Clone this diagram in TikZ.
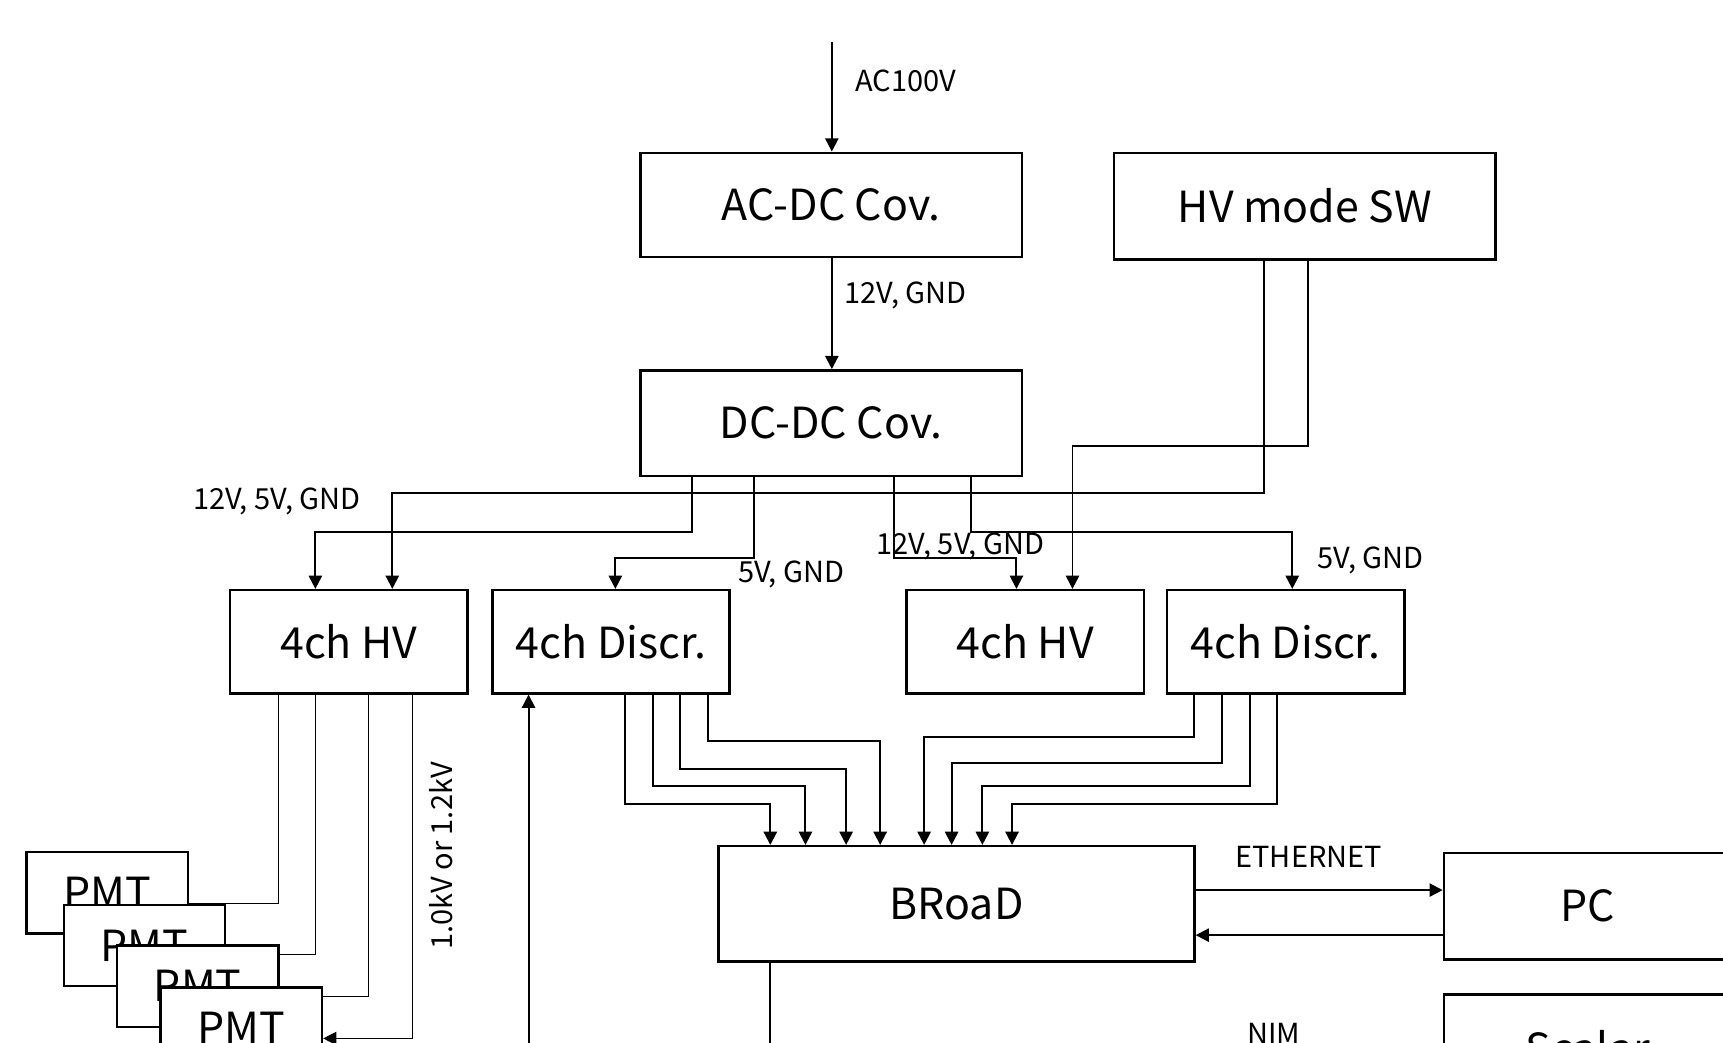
\documentclass[tikz,border=0pt]{standalone}
\usepackage{fontspec}
\setmainfont{Noto Sans CJK JP}
\usetikzlibrary{arrows.meta, backgrounds}

\begin{document}
\begin{tikzpicture}[x=0.5pt, y=-0.5pt, line width=0.9pt, >={Triangle[length=6pt, width=6pt]},
        blk/.style={draw, line width=1.1pt, fill=white, inner sep=0pt, font=\fontsize{19.5}{23}\selectfont},
        unit/.style={blk, minimum width=108pt, minimum height=47pt},
        pmt/.style={blk, minimum width=73.5pt, minimum height=37pt},
        lbl/.style={inner sep=0pt, font=\fontsize{13.2}{15}\selectfont}]
    \useasboundingbox (0,0) rectangle (1568,949);
    \clip (0,0) rectangle (1568,949);

    \node[blk, minimum width=173.5pt, minimum height=47.5pt] (acdc) at (756.5,186.5) {AC-DC Cov.};
    \node[blk, minimum width=173.5pt, minimum height=48.5pt] (hvsw) at (1187.5,187.5) {HV mode SW};
    \node[blk, minimum width=173.5pt, minimum height=48pt] (dcdc) at (756.5,385) {DC-DC Cov.};

    \node[unit] (hvL) at (317.5,584) {4ch HV};
    \node[unit] (discL) at (556,584) {4ch Discr.};
    \node[unit] (hvR) at (933,584) {4ch HV};
    \node[unit] (discR) at (1170,584) {4ch Discr.};

    \node[blk, minimum width=216.5pt, minimum height=52.5pt] (broad) at (870.5,822.5) {BRoaD};
    \node[blk, minimum width=131pt, minimum height=48.5pt] (pc) at (1445,824.5) {PC};
    \node[blk, minimum width=131pt, minimum height=48.5pt] (scaler) at (1445,953.5) {Scalar};

    \node[pmt] (pmt1) at (97.5,812.5) {PMT};
    \node[pmt] (pmt2) at (131.5,860.5) {PMT};
    \node[pmt] (pmt3) at (180,897.5) {PMT};
    \node[pmt] (pmt4) at (219.5,935.5) {PMT};

    % power
    \coordinate (acin) at (757,38);
    \draw[->] (acin) -- (acdc.north -| acin);
    \node[lbl] (l100) at (824.5,74) {AC100V};
    \draw[->] (acdc.south -| acin) -- (dcdc.north -| acin);
    \node[lbl] (l12) at (824,269) {12V, GND};

    \draw[->] (dcdc.south -| 630,0) -- (630,484) -| (hvL.north -| 287,0);
    \draw[->] (dcdc.south -| 686,0) -- (686,508) -| (discL.north -| 560,0);
    \draw[->] (dcdc.south -| 814,0) -- (814,508) -| (hvR.north -| 925,0);
    \draw[->] (dcdc.south -| 884,0) -- (884,484) -| (discR.north -| 1176,0);
    \draw[->] (hvsw.south -| 1150,0) -- (1150,449) -| (hvL.north -| 357,0);
    \draw[->] (hvsw.south -| 1190,0) -- (1190,406) -| (hvR.north -| 976,0);

    \node[lbl] (lpwL) at (252,456) {12V, 5V, GND};
    \node[lbl] (ldsL) at (720,523) {5V, GND};
    \node[lbl] (lpwR) at (874,497) {12V, 5V, GND};
    \node[lbl] (ldsR) at (1247.5,510) {5V, GND};

    % discriminator outputs
    \foreach \xa/\ya/\xb in {569/732/701, 594/715/733, 619/700/770, 644/674/801}
        \draw[->] (discL.south -| \xa,0) -- (\xa,\ya) -| (broad.north -| \xb,0);
    \foreach \xa/\ya/\xb in {1087/671/841, 1112/694.5/866, 1137.5/715/894, 1162.5/732/921}
        \draw[->] (discR.south -| \xa,0) -- (\xa,\ya) -| (broad.north -| \xb,0);

    % high voltage to PMTs
    \begin{scope}[on background layer]
        \foreach \xa/\ya/\p in {253/822/pmt1, 287/869/pmt2, 335/907/pmt3}
            \draw (hvL.south -| \xa,0) |- (\p.east |- 0,\ya);
        \draw[->] (hvL.south -| 375,0) |- (pmt4.east |- 0,945);
    \end{scope}
    \node[lbl, rotate=90] (lhv) at (401,779) {1.0kV or 1.2kV};

    \coordinate (trig) at (481,949);
    \draw[->] (trig) -- (discL.south -| trig);

    % readout
    \draw[->] (broad.east |- 0,810) -- (pc.west |- 0,810);
    \draw[->] (pc.west |- 0,851) -- (broad.east |- 0,851);
    \node[lbl] (leth) at (1191,780) {ETHERNET};

    \coordinate (nim) at (701,949);
    \draw (broad.south -| nim) -- (nim);
    \node[lbl] (lnim) at (1159,941) {NIM};
\end{tikzpicture}
\end{document}
